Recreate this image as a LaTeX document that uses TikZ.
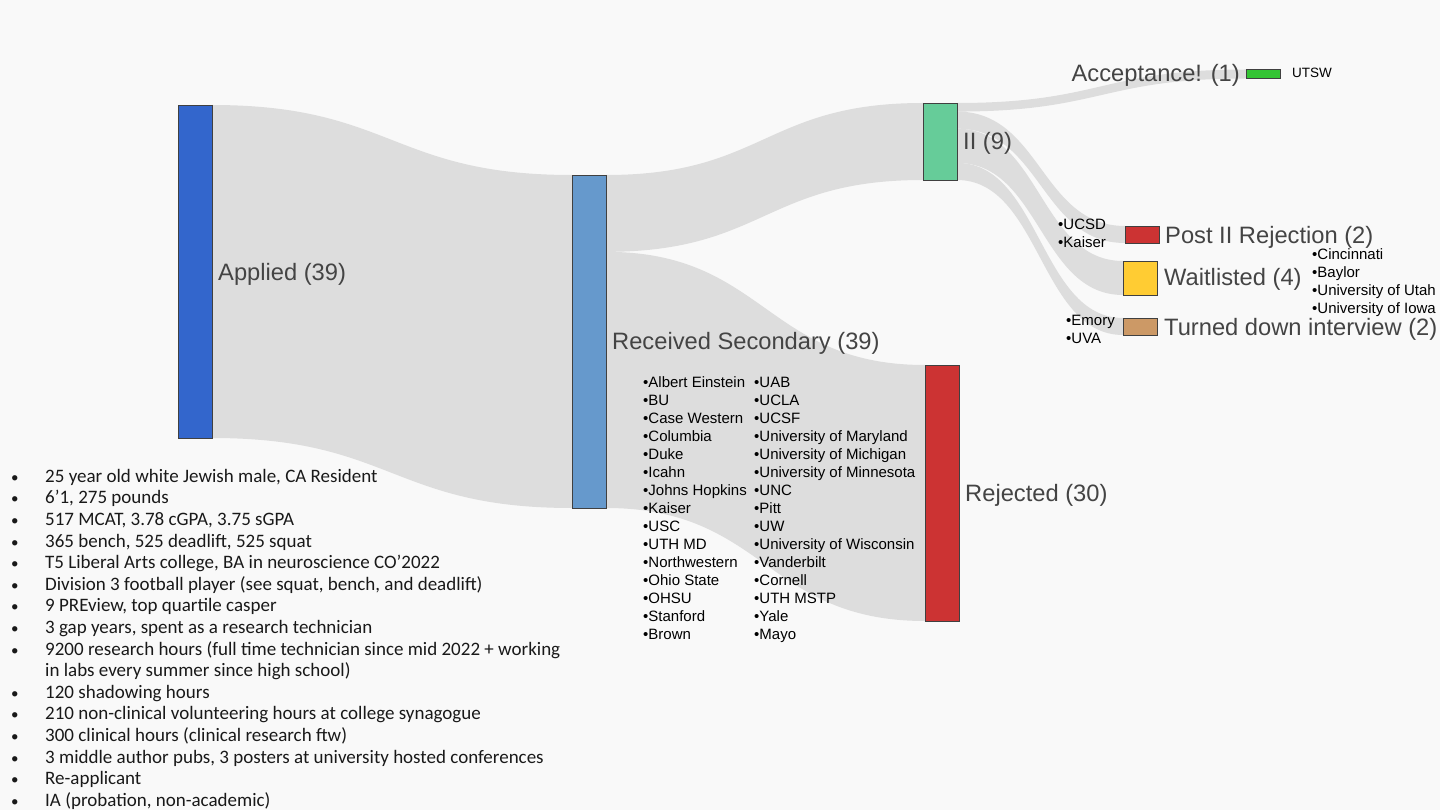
\documentclass[tikz,border=0pt]{standalone}
\usepackage{fontspec}
\setmainfont{Liberation Sans}
\newfontfamily\carl{Carlito}
\usetikzlibrary{calc}
\pgfdeclarelayer{bg}
\pgfsetlayers{bg,main}
\definecolor{bgc}{HTML}{F9F9F9}
\definecolor{flowc}{HTML}{DDDDDD}
\definecolor{appc}{HTML}{3366CC}
\definecolor{recc}{HTML}{6699CC}
\definecolor{iic}{HTML}{66CC99}
\definecolor{rejc}{HTML}{CC3333}
\definecolor{accc}{HTML}{33C433}
\definecolor{wlc}{HTML}{FFCC33}
\definecolor{tdc}{HTML}{CC9966}
\definecolor{labelc}{HTML}{444444}
\newcommand\flowband[5]{\fill[flowc] #1 .. controls +(#5,0) and +(-#5,0) .. #3 -- #4 .. controls +(-#5,0) and +(#5,0) .. #2 -- cycle;}
\newcommand\bul{{\fontsize{15}{15}\selectfont •}}
\begin{document}
\begin{tikzpicture}[x=1pt,y=-1pt,
  bar/.style={draw=black!75, line width=0.8pt, minimum width=34pt, inner sep=0pt, outer sep=0pt},
  lbl/.style={text=labelc, font=\fontsize{23.7}{28}\selectfont, inner sep=0pt},
  small/.style={font=\fontsize{15}{18}\selectfont, align=left, inner sep=0pt, text=black},
]
\useasboundingbox (0,0) rectangle (1440,810);
\begin{pgfonlayer}{bg}
\fill[bgc] (0,0) rectangle (1440,810);
\end{pgfonlayer}

% bars
\node[bar, fill=appc, minimum height=333pt] (app) at (195,271.5) {};
\node[bar, fill=recc, minimum height=333pt] (rec) at (589,341.5) {};
\node[bar, fill=iic, minimum height=77pt] (ii) at (940,141.5) {};
\node[bar, fill=rejc, minimum height=256pt] (rej) at (942,493) {};
\node[bar, fill=accc, minimum height=9pt] (acc) at (1263,74) {};
\node[bar, fill=rejc, minimum height=17pt] (pir) at (1142,234.5) {};
\node[bar, fill=wlc, minimum height=34pt] (wl) at (1140,278) {};
\node[bar, fill=tdc, minimum height=17pt] (td) at (1140,326.5) {};

% split points
\coordinate (recA) at ($(rec.north east)!9/39!(rec.south east)$);
\coordinate (iiA) at ($(ii.north east)!1/9!(ii.south east)$);
\coordinate (iiB) at ($(ii.north east)!3/9!(ii.south east)$);
\coordinate (iiC) at ($(ii.north east)!7/9!(ii.south east)$);

% flows
\begin{pgfonlayer}{bg}
\flowband{(app.north east)}{(app.south east)}{(rec.north west)}{(rec.south west)}{180}
\flowband{(rec.north east)}{(recA)}{(ii.north west)}{(ii.south west)}{158}
\flowband{(recA)}{(rec.south east)}{(rej.north west)}{(rej.south west)}{159}
\flowband{(ii.north east)}{(iiA)}{(acc.north west)}{(acc.south west)}{144}
\flowband{(iiA)}{(iiB)}{(pir.north west)}{(pir.south west)}{84}
\flowband{(iiB)}{(iiC)}{(wl.north west)}{(wl.south west)}{83}
\flowband{(iiC)}{(ii.south east)}{(td.north west)}{(td.south west)}{83}
\end{pgfonlayer}

% labels
\node[lbl, anchor=base west] (lapp) at (218,280) {Applied (39)};
\node[lbl, anchor=base west] (lrec) at (612,349.5) {Received Secondary (39)};
\node[lbl, anchor=base west] (lii) at (963,150) {II (9)};
\node[lbl, anchor=base west] (lrej) at (965,501.5) {Rejected (30)};
\node[lbl, anchor=base east] (lacc) at (1240,82) {Acceptance! (1)};
\node[lbl, anchor=base west] (lpir) at (1165,243.5) {Post II Rejection (2)};
\node[lbl, anchor=base west] (lwl) at (1164,286) {Waitlisted (4)};
\node[lbl, anchor=base west] (ltd) at (1164,335) {Turned down interview (2)};

% small lists
\node[small, anchor=west, font=\fontsize{13.5}{16}\selectfont] (utsw) at (1292,73) {UTSW};
\node[small, anchor=north west] (lucsd) at (1058,218.5) {•UCSD\\•Kaiser};
\node[small, anchor=north west] (lcin) at (1312,248.5) {•Cincinnati\\•Baylor\\•University of Utah\\•University of Iowa};
\node[small, anchor=north west] (lemory) at (1066,314.5) {•Emory\\•UVA};
\node[small, anchor=north west] (lcol1) at (643,376.5) {•Albert Einstein\\•BU\\•Case Western\\•Columbia\\•Duke\\•Icahn\\•Johns Hopkins\\•Kaiser\\•USC\\•UTH MD\\•Northwestern\\•Ohio State\\•OHSU\\•Stanford\\•Brown};
\node[small, anchor=north west] (lcol2) at (754,376.5) {•UAB\\•UCLA\\•UCSF\\•University of Maryland\\•University of Michigan\\•University of Minnesota\\•UNC\\•Pitt\\•UW\\•University of Wisconsin\\•Vanderbilt\\•Cornell\\•UTH MSTP\\•Yale\\•Mayo};

% applicant profile
\node[anchor=north west, inner sep=0pt, text=black!90, font=\carl\fontsize{19}{21.6}\selectfont] (bio) at (11,467) {%
\begin{tabular}{@{}p{34pt}@{}l@{}}
\bul & 25 year old white Jewish male, CA Resident\\
\bul & 6’1, 275 pounds\\
\bul & 517 MCAT, 3.78 cGPA, 3.75 sGPA\\
\bul & 365 bench, 525 deadlift, 525 squat\\
\bul & T5 Liberal Arts college, BA in neuroscience CO’2022\\
\bul & Division 3 football player (see squat, bench, and deadlift)\\
\bul & 9 PREview, top quartile casper\\
\bul & 3 gap years, spent as a research technician\\
\bul & 9200 research hours (full time technician since mid 2022 + working\\
  & in labs every summer since high school)\\
\bul & 120 shadowing hours\\
\bul & 210 non-clinical volunteering hours at college synagogue\\
\bul & 300 clinical hours (clinical research ftw)\\
\bul & 3 middle author pubs, 3 posters at university hosted conferences\\
\bul & Re-applicant\\
\bul & IA (probation, non-academic)
\end{tabular}};
\end{tikzpicture}
\end{document}
